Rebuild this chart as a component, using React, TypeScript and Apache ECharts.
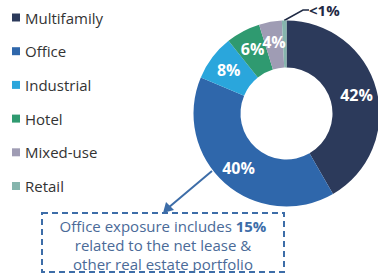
import React, { useEffect, useRef } from "react";
import * as echarts from "echarts";

const categories = ["Multifamily", "Office", "Industrial", "Hotel", "Mixed-use", "Retail"];
const values = [42, 40, 8, 6, 4, 0.8];
const valueLabels = ["42%", "40%", "8%", "6%", "4%", "<1%"];
const colors = ["#2c3a5b", "#2f67ab", "#2aa6dc", "#2f9a70", "#9f9cb4", "#86b5ad"];
const noteLines = ["Office exposure includes ", "15%", "related to the net lease &", "other real estate portfolio"];

const FONT = "'Open Sans', 'Noto Sans', sans-serif";

export default function App() {
  const ref = useRef<HTMLDivElement>(null);
  useEffect(() => {
    if (!ref.current) return;
    const chart = echarts.init(ref.current, null, { renderer: "svg" });
    const data = categories.map((name, i) => {
      const item: any = { name, value: values[i], itemStyle: { color: colors[i] } };
      if (i === 5) {
        item.label = {
          show: true,
          position: "outside",
          color: "#1f2a44",
          fontSize: 15,
          fontWeight: "bold",
        };
        item.labelLine = {
          show: true,
          length: 8,
          length2: 6,
          lineStyle: { color: "#1f2a44", width: 1.5 },
        };
      }
      return item;
    });
    chart.setOption({
      animation: false,
      legend: {
        orient: "vertical",
        left: 12,
        top: 10,
        padding: 0,
        icon: "rect",
        itemWidth: 8,
        itemHeight: 8,
        itemGap: 18.7,
        data: categories,
        textStyle: { fontFamily: FONT, fontSize: 15, color: "#333333", lineHeight: 15 },
        selectedMode: false,
      },
      series: [
        {
          type: "pie",
          center: [286.5, 113.5],
          radius: [46, 93],
          startAngle: 90,
          clockwise: true,
          avoidLabelOverlap: false,
          itemStyle: { borderWidth: 0 },
          label: {
            show: true,
            position: "inside",
            fontFamily: FONT,
            fontSize: 16,
            fontWeight: "bold",
            color: "#ffffff",
            formatter: (p: any) => valueLabels[p.dataIndex],
          },
          labelLine: { show: false },
          labelLayout: (p: any) => {
            if (p.dataIndex === 5) {
              return { x: 309, y: 10, align: "left", verticalAlign: "middle" };
            }
            return {};
          },
          data,
        },
      ],
      graphic: [
        {
          type: "rect",
          shape: { x: 42, y: 213, width: 242, height: 59 },
          style: { fill: "none", stroke: "#3d6da8", lineWidth: 2, lineDash: [6, 4] },
        },
        {
          type: "line",
          shape: { x1: 212, y1: 171, x2: 168, y2: 208 },
          style: { stroke: "#3d6da8", lineWidth: 2 },
        },
        {
          type: "polygon",
          shape: { points: [[163, 213], [166, 202], [174, 210]] },
          style: { fill: "#3d6da8" },
        },
        {
          type: "text",
          x: 163,
          y: 226,
          style: {
            text: "{a|" + noteLines[0] + "}{b|" + noteLines[1] + "}",
            align: "center",
            verticalAlign: "middle",
            rich: {
              a: { fontFamily: FONT, fontSize: 15, fill: "#4a6a98" },
              b: { fontFamily: FONT, fontSize: 15, fill: "#3d6da8", fontWeight: "bold" },
            },
          },
        },
        {
          type: "text",
          x: 163,
          y: 245,
          style: {
            text: noteLines[2],
            align: "center",
            verticalAlign: "middle",
            fontFamily: FONT,
            fontSize: 15,
            fill: "#4a6a98",
          },
        },
        {
          type: "text",
          x: 163,
          y: 264,
          style: {
            text: noteLines[3],
            align: "center",
            verticalAlign: "middle",
            fontFamily: FONT,
            fontSize: 15,
            fill: "#4a6a98",
          },
        },
      ],
    });
    return () => chart.dispose();
  }, []);
  return (
    <div
      ref={ref}
      style={{ position: "fixed", left: 0, top: 0, width: 378, height: 273, background: "#ffffff" }}
    />
  );
}
